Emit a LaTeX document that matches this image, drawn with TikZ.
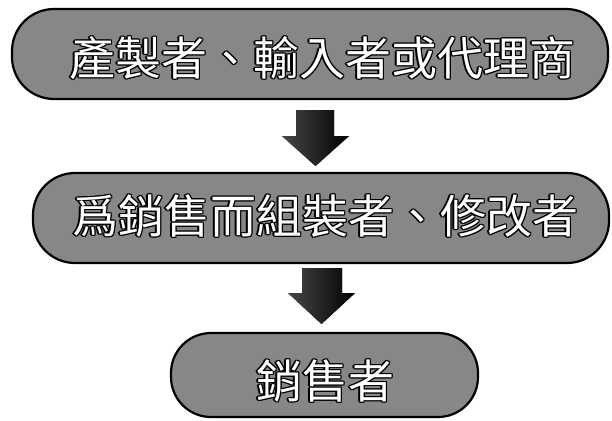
\documentclass[tikz,border=0pt]{standalone}
\usepackage{fontspec}
\newfontfamily\cjk{Noto Sans CJK TC}
\tikzset{
  flowbox/.style={draw=black, line width=2.2pt, fill=black!47},
  lbl/.style={font=\cjk\fontsize{46}{46}\selectfont, inner sep=0pt, anchor=center},
  blockarrow/.style={left color=black!72, right color=black, draw=none},
}
\newcommand\outlinetext[3]{%
  \foreach \dx/\dy in {-1.4/0,1.4/0,0/-1.4,0/1.4,-1/-1,1/1,-1/1,1/-1}{%
    \node[lbl,text=black] at ([shift={(\dx,\dy)}]#2) {#3};}
  \node[lbl,text=white] (#1) at (#2) {#3};
}
\begin{document}
\begin{tikzpicture}[x=1pt,y=-1pt]
\useasboundingbox (0,0) rectangle (612,420);
\fill[white] (0,0) rectangle (612,420);
% boxes
\draw[flowbox, rounded corners=42pt] (12,9) rectangle (608,99);
\draw[flowbox, rounded corners=42pt] (33,173) rectangle (609,263);
\draw[flowbox, rounded corners=40pt] (171,333) rectangle (478,417);
% texts
\coordinate (t1) at (322,58);
\coordinate (t2) at (325,216);
\coordinate (t3) at (325,381);
\outlinetext{l1}{t1}{產製者、輸入者或代理商}
\outlinetext{l2}{t2}{爲銷售而組裝者、修改者}
\outlinetext{l3}{t3}{銷售者}
% arrows
\fill[blockarrow] (296,110) -- (334,110) -- (334,136) -- (349,136) -- (315.5,166) -- (282,136) -- (296,136) -- cycle;
\fill[blockarrow] (302,268) -- (342,268) -- (342,293) -- (355,293) -- (321.5,324) -- (288,293) -- (302,293) -- cycle;
\end{tikzpicture}
\end{document}
